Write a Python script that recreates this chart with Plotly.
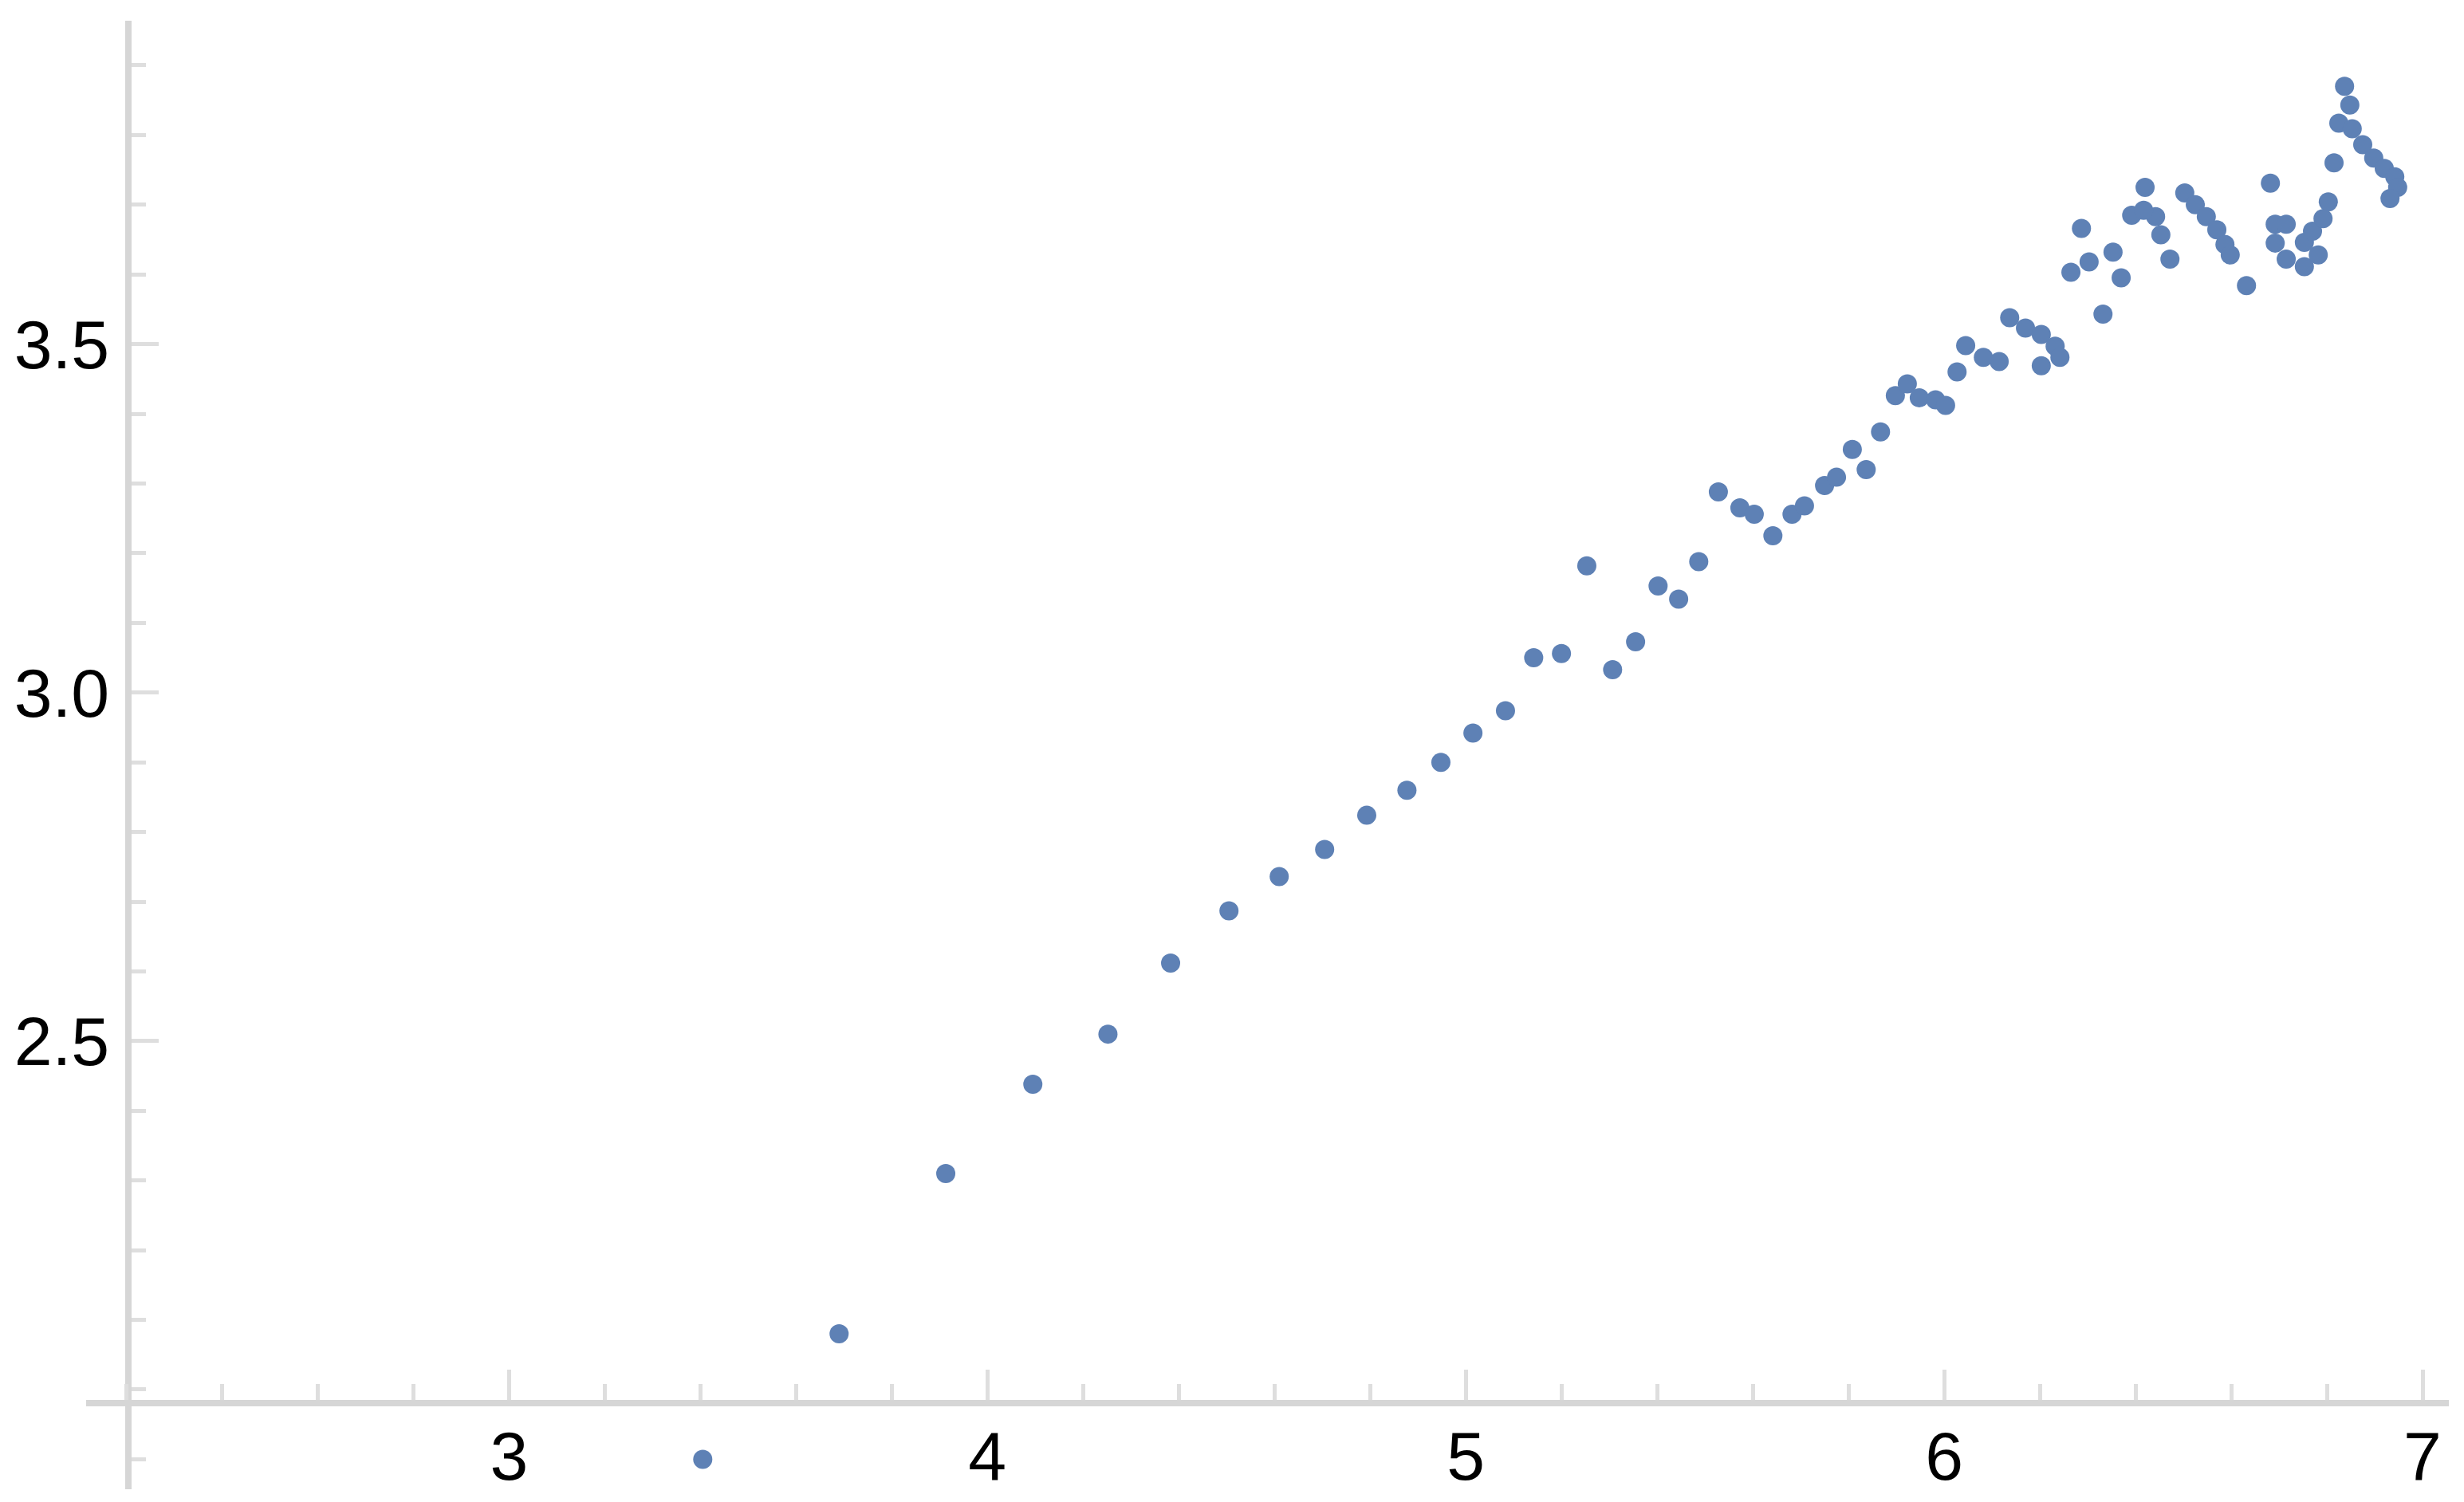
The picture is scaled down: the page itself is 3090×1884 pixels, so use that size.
import plotly.graph_objects as go

# ---- data ----
x_vals = [3.405, 3.690, 3.913, 4.095, 4.252, 4.383, 4.505, 4.610, 4.705, 4.793,
          4.877, 4.948, 5.015, 5.083, 5.142, 5.200, 5.253, 5.307, 5.355, 5.402,
          5.445, 5.487, 5.528, 5.573, 5.603, 5.642, 5.682, 5.708, 5.750, 5.775,
          5.808, 5.837, 5.867, 5.898, 5.923, 5.948, 5.982, 6.003, 6.027, 6.045,
          6.082, 6.115, 6.137, 6.170, 6.203, 6.232, 6.203, 6.242, 6.265, 6.287,
          6.303, 6.332, 6.353, 6.370, 6.392, 6.420, 6.442, 6.453, 6.472, 6.503,
          6.525, 6.548, 6.570, 6.587, 6.598, 6.632, 6.682, 6.692, 6.715, 6.692,
          6.715, 6.753, 6.782, 6.753, 6.770, 6.792, 6.803, 6.815, 6.825, 6.837,
          6.848, 6.853, 6.875, 6.898, 6.920, 6.942, 6.948, 6.932, 6.417]
y_vals = [1.900, 2.080, 2.310, 2.438, 2.510, 2.612, 2.687, 2.736, 2.775, 2.824,
          2.860, 2.900, 2.942, 2.974, 3.050, 3.056, 3.182, 3.033, 3.073, 3.153,
          3.134, 3.188, 3.288, 3.265, 3.256, 3.225, 3.256, 3.268, 3.297, 3.309,
          3.349, 3.320, 3.374, 3.426, 3.443, 3.423, 3.420, 3.412, 3.460, 3.498,
          3.481, 3.475, 3.538, 3.523, 3.514, 3.497, 3.469, 3.481, 3.603, 3.666,
          3.618, 3.543, 3.632, 3.595, 3.685, 3.725, 3.683, 3.657, 3.622, 3.717,
          3.700, 3.683, 3.664, 3.643, 3.628, 3.584, 3.731, 3.672, 3.672, 3.645,
          3.622, 3.611, 3.628, 3.646, 3.662, 3.680, 3.704, 3.760, 3.817, 3.870,
          3.843, 3.809, 3.786, 3.767, 3.752, 3.740, 3.725, 3.709, 3.692]

x_tick_vals = [3, 4, 5, 6, 7]
x_tick_text = ["3", "4", "5", "6", "7"]
y_tick_vals = [2.5, 3.0, 3.5]
y_tick_text = ["2.5", "3.0", "3.5"]

# plot window and axes origin
x_range = [2.116, 7.055]
y_range = [1.857, 3.964]
origin_x = 2.205
origin_y = 1.980

# ---- styling ----
W, H = 3090, 1884
POINT_COLOR = "#5E81B5"
AXIS_COLOR = "#d6d6d6"
TICK_COLOR = "#dedede"
FONT = "Liberation Sans, Arial, sans-serif"
FONT_SIZE = 86

fig = go.Figure()
fig.add_trace(go.Scatter(
    x=x_vals, y=y_vals, mode="markers",
    marker=dict(color=POINT_COLOR, size=24, line=dict(width=0)),
    showlegend=False, hoverinfo="x+y",
))

x_pos = (origin_y - y_range[0]) / (y_range[1] - y_range[0])
y_pos = (origin_x - x_range[0]) / (x_range[1] - x_range[0])

fig.update_layout(
    width=W, height=H,
    margin=dict(l=100, r=27, t=18, b=24, autoexpand=False),
    paper_bgcolor="white", plot_bgcolor="white",
    font=dict(family=FONT, size=FONT_SIZE, color="black"),
    xaxis=dict(
        range=x_range, anchor="free", position=x_pos,
        showgrid=False, zeroline=False,
        showline=True, linecolor=AXIS_COLOR, linewidth=8,
        tickmode="array", tickvals=x_tick_vals, ticktext=x_tick_text,
        ticks="inside", ticklen=38, tickwidth=5, tickcolor=TICK_COLOR,
        tickfont=dict(family=FONT, size=FONT_SIZE, color="black"),
        ticklabelstandoff=-12,
        minor=dict(tickmode="linear", tick0=0, dtick=0.2, ticks="inside",
                   ticklen=20, tickwidth=5, tickcolor=TICK_COLOR, showgrid=False),
        automargin=False,
    ),
    yaxis=dict(
        range=y_range, anchor="free", position=y_pos,
        showgrid=False, zeroline=False,
        showline=True, linecolor=AXIS_COLOR, linewidth=8,
        tickmode="array", tickvals=y_tick_vals, ticktext=y_tick_text,
        ticks="inside", ticklen=34, tickwidth=5, tickcolor=TICK_COLOR,
        tickfont=dict(family=FONT, size=FONT_SIZE, color="black"),
        ticklabelstandoff=3,
        minor=dict(tickmode="linear", tick0=0, dtick=0.1, ticks="inside",
                   ticklen=18, tickwidth=5, tickcolor=TICK_COLOR, showgrid=False),
        automargin=False,
    ),
)

fig.write_html("out.html")
